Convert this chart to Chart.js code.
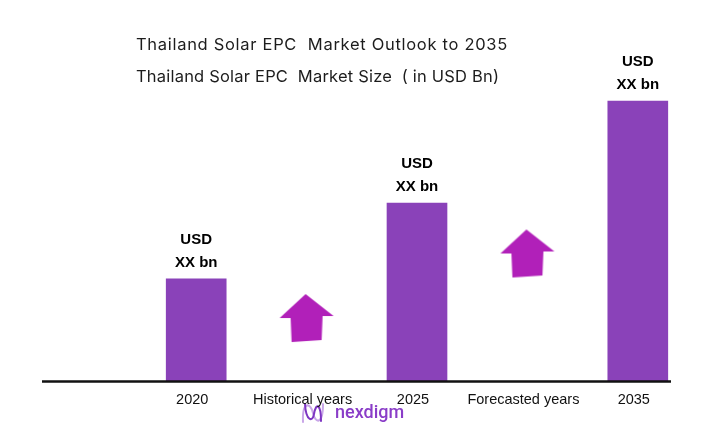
<!DOCTYPE html>
<html>
<head>
<meta charset="utf-8">
<script src="https://cdn.jsdelivr.net/npm/chart.js@4.4.1/dist/chart.umd.min.js"></script>
<style>
  html, body { margin: 0; padding: 0; background: #fff; }
  #wrap { width: 719px; height: 435px; }
</style>
</head>
<body>
<div id="wrap"><canvas id="market-chart" width="719" height="435"></canvas></div>
<script>
const chartTitle = 'Thailand Solar EPC  Market Outlook to 2035';
const chartSubtitle = 'Thailand Solar EPC  Market Size  ( in USD Bn)';
const categories = ['2020', 'Historical years', '2025', 'Forecasted years', '2035'];
const marketSize = [10.2, null, 17.7, null, 27.8];
const barLabels = [['USD', 'XX bn'], null, ['USD', 'XX bn'], null, ['USD', 'XX bn']];
const growthArrows = [null, 6.3, null, 12.7, null];
const brandName = 'nexdigm';

const barColor = '#8a42b9';
const arrowColor = '#b120b9';

// Arrow marker used as point style for the growth dataset
function makeArrow() {
    const c = document.createElement('canvas');
    c.width = 56;
    c.height = 50;
    const g = c.getContext('2d');
    g.fillStyle = arrowColor;
    g.beginPath();
    g.moveTo(27, 1);
    g.lineTo(55, 23);
    g.lineTo(44, 23);
    g.lineTo(43, 47);
    g.lineTo(13, 49);
    g.lineTo(12, 25);
    g.lineTo(1, 25);
    g.closePath();
    g.fill();
    return c;
}

// Titles, logo, baseline and the "USD / XX bn" labels
const decorations = {
    id: 'decorations',
    beforeDraw(chart) {
        const ctx = chart.ctx;
        ctx.save();
        ctx.fillStyle = '#1c1c1c';
        ctx.font = '16.5px Inter, "Noto Sans", sans-serif';
        ctx.textAlign = 'left';
        ctx.textBaseline = 'alphabetic';
        ctx.letterSpacing = '0.7px';
        ctx.fillText(chartTitle, 136, 50);
        ctx.letterSpacing = '0.2px';
        ctx.fillText(chartSubtitle, 136, 82);
        ctx.letterSpacing = '0px';

        // logo
        ctx.lineCap = 'round';
        ctx.lineWidth = 2;
        ctx.strokeStyle = '#c9a6e8';
        ctx.beginPath();
        ctx.moveTo(303, 422);
        ctx.bezierCurveTo(302, 400, 311, 403, 313, 413);
        ctx.bezierCurveTo(315, 423, 323, 426, 323, 404);
        ctx.stroke();
        ctx.strokeStyle = '#7d35c2';
        ctx.beginPath();
        ctx.moveTo(305, 404);
        ctx.bezierCurveTo(306, 422, 313, 422, 314, 414);
        ctx.bezierCurveTo(316, 402, 321, 404, 321, 421);
        ctx.stroke();
        ctx.fillStyle = '#8a3dc8';
        ctx.font = '500 18px Roboto, "Liberation Sans", sans-serif';
        ctx.textBaseline = 'middle';
        ctx.fillText(brandName, 335, 413);
        ctx.restore();
    },
    afterDatasetsDraw(chart) {
        const { ctx, scales: { y } } = chart;
        const base = y.getPixelForValue(0);
        ctx.save();
        ctx.strokeStyle = '#111';
        ctx.lineWidth = 2.5;
        ctx.beginPath();
        ctx.moveTo(42, base);
        ctx.lineTo(671, base);
        ctx.stroke();

        ctx.fillStyle = '#000';
        ctx.font = 'bold 15px "Liberation Sans", Arial, sans-serif';
        ctx.textAlign = 'center';
        ctx.textBaseline = 'middle';
        chart.getDatasetMeta(0).data.forEach((bar, i) => {
            const lines = barLabels[i];
            if (!lines || marketSize[i] == null) return;
            ctx.fillText(lines[0], bar.x, bar.y - 39);
            ctx.fillText(lines[1], bar.x, bar.y - 16);
        });
        ctx.restore();
    }
};

const ctx = document.getElementById('market-chart').getContext('2d');
new Chart(ctx, {
    type: 'bar',
    data: {
        labels: categories,
        datasets: [
            {
                label: 'Market Size',
                data: marketSize,
                backgroundColor: barColor,
                barThickness: 60,
                order: 2
            },
            {
                type: 'line',
                label: 'Growth',
                data: growthArrows,
                showLine: false,
                pointStyle: makeArrow(),
                order: 1
            }
        ]
    },
    options: {
        responsive: false,
        animation: false,
        devicePixelRatio: 1,
        layout: { padding: { left: 141, right: 26, top: 79, bottom: 16 } },
        plugins: {
            legend: { display: false },
            tooltip: { enabled: false }
        },
        scales: {
            x: {
                grid: { display: false, drawTicks: false },
                border: { display: false },
                ticks: {
                    color: '#111',
                    padding: 10,
                    labelOffset: -4,
                    autoSkip: false,
                    maxRotation: 0,
                    minRotation: 0,
                    font: { family: '"Liberation Sans", Arial, sans-serif', size: 14.5 }
                }
            },
            y: {
                display: false,
                min: 0,
                max: 30
            }
        }
    },
    plugins: [decorations]
});
</script>
</body>
</html>
